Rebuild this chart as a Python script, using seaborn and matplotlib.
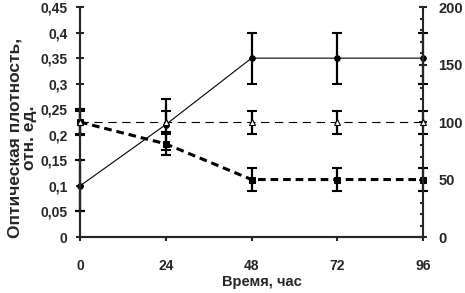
# optical density vs time, two y axes
import numpy as np
import pandas as pd
import matplotlib
matplotlib.use('Agg')
import matplotlib.pyplot as plt
import seaborn as sns

hours = [0, 24, 48, 72, 96]

# left axis series (solid line, filled circles)
od = [0.10, 0.22, 0.35, 0.35, 0.35]
od_err = [0.05, 0.05, 0.05, 0.05, 0.05]

# right axis series
flat = [100, 100, 100, 100, 100]        # open triangles, long dashes
flat_err = [10, 10, 10, 10, 10]
drop = [100, 81, 50, 50, 50]            # filled squares, thick dashes
drop_err = [11, 10, 10, 10, 10]

left_ticks = [0, 0.05, 0.1, 0.15, 0.2, 0.25, 0.3, 0.35, 0.4, 0.45]
left_labels = ['0', '0,05', '0,1', '0,15', '0,2', '0,25', '0,3', '0,35', '0,4', '0,45']
right_ticks = [0, 50, 100, 150, 200]

sns.set_style('ticks')
plt.rcParams['font.family'] = ['Liberation Sans', 'DejaVu Sans']
plt.rcParams['font.weight'] = 'bold'
plt.rcParams['font.size'] = 10

fig = plt.figure(figsize=(4.65, 2.93), dpi=100)
ax = fig.add_axes([0.172, 0.191, 0.738, 0.785])
ax2 = ax.twinx()

df = pd.DataFrame({'t': hours, 'od': od, 'flat': flat, 'drop': drop})

# solid line
sns.lineplot(data=df, x='t', y='od', ax=ax, color='black', lw=0.8,
             marker='o', markersize=4, markeredgecolor='black', clip_on=False)
ax.errorbar(hours, od, yerr=od_err, fmt='none', ecolor='black', elinewidth=1.6,
            capsize=3.5, capthick=1.5, clip_on=False)

# thick short dashes, filled squares
sns.lineplot(data=df, x='t', y='drop', ax=ax2, color='black', lw=2.2,
             marker='s', markersize=4.5, markeredgecolor='black', clip_on=False)
ax2.lines[-1].set_dashes([2.5, 1.6])
ax2.errorbar(hours, drop, yerr=drop_err, fmt='none', ecolor='black', elinewidth=1.6,
             capsize=3.5, capthick=1.5, clip_on=False)

# long dashes, open triangles
sns.lineplot(data=df, x='t', y='flat', ax=ax2, color='black', lw=0.8,
             marker='^', markersize=5, markerfacecolor='white', markeredgecolor='black',
             markeredgewidth=0.8, clip_on=False, zorder=5)
ax2.lines[-1].set_dashes([7.5, 5])
ax2.errorbar(hours, flat, yerr=flat_err, fmt='none', ecolor='black', elinewidth=1.6,
             capsize=3.5, capthick=1.5, clip_on=False)

ax.set_xlim(0, 96)
ax.set_ylim(0, 0.45)
ax2.set_ylim(0, 200)
ax.set_xticks(hours)
ax.set_xticklabels([str(h) for h in hours])
ax.set_yticks(left_ticks)
ax.set_yticklabels(left_labels)
ax2.set_yticks(right_ticks)
ax2.set_yticks(np.arange(0, 201, 10), minor=True)

ax.spines['top'].set_visible(False)
ax2.spines['top'].set_visible(False)
ax.spines['right'].set_visible(False)
for a in (ax, ax2):
    for s in a.spines.values():
        s.set_linewidth(1.5)

ax.tick_params(axis='x', direction='out', length=3, width=1.5, pad=13)
ax.tick_params(axis='y', direction='inout', length=6, width=1.5, pad=6)
ax2.tick_params(axis='y', which='major', direction='inout', length=6, width=1.5, pad=8,
                labelsize=10.5)
ax2.tick_params(axis='y', which='minor', direction='in', length=2, width=1.5)

ax.set_xlabel('Время, час', fontweight='bold', fontsize=10.5)
ax.xaxis.set_label_coords(0.53, -0.165)
ax.set_ylabel('Оптическая плотность,\nотн. ед.', fontweight='bold', fontsize=12.5,
              linespacing=1.0)
ax.yaxis.set_label_coords(-0.125, 0.43)
ax2.set_ylabel('')

fig.savefig('out.png', dpi=100)
